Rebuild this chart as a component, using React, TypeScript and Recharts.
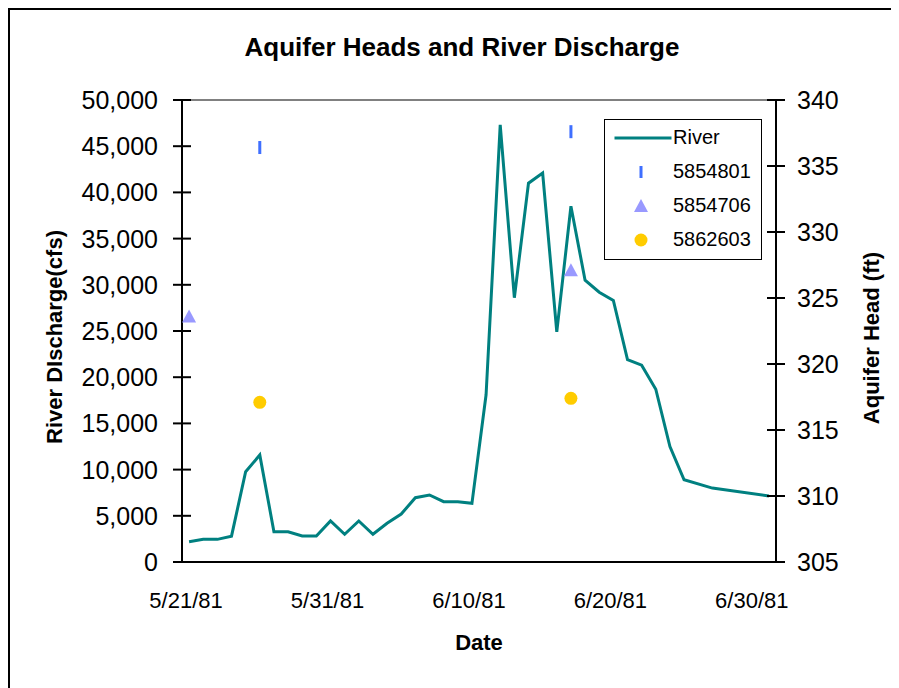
import React from 'react';
import { ComposedChart, Line, Scatter, XAxis, YAxis, Legend, ReferenceLine, Label } from 'recharts';

// river discharge, daily (cfs)
const riverDates = [
  '5/21/81', '5/22/81', '5/23/81', '5/24/81', '5/25/81', '5/26/81', '5/27/81', '5/28/81',
  '5/29/81', '5/30/81', '5/31/81', '6/1/81', '6/2/81', '6/3/81', '6/4/81', '6/5/81',
  '6/6/81', '6/7/81', '6/8/81', '6/9/81', '6/10/81', '6/11/81', '6/12/81', '6/13/81',
  '6/14/81', '6/15/81', '6/16/81', '6/17/81', '6/18/81', '6/19/81', '6/20/81', '6/21/81',
  '6/22/81', '6/23/81', '6/24/81', '6/25/81', '6/27/81', '7/1/81'
];
const riverFlow = [
  2200, 2450, 2450, 2800, 9770, 11580, 3280, 3280,
  2810, 2810, 4440, 3000, 4440, 3000, 4190, 5190,
  6960, 7250, 6530, 6530, 6350, 18100, 47300, 28600,
  41000, 42100, 24900, 38500, 30500, 29200, 28300, 21900,
  21300, 18700, 12500, 8900, 8000, 7150
];

// aquifer heads (ft)
const well5854801Dates = ['5/26/81', '6/17/81'];
const well5854801Head = [336.4, 337.6];
const well5854706Dates = ['5/21/81', '6/17/81'];
const well5854706Head = [323.6, 327.1];
const well5862603Dates = ['5/26/81', '6/17/81'];
const well5862603Head = [317.1, 317.4];

const dateTicks = ['5/21/81', '5/31/81', '6/10/81', '6/20/81', '6/30/81'];
const flowTicks = [0, 5000, 10000, 15000, 20000, 25000, 30000, 35000, 40000, 45000, 50000];
const headTicks = [305, 310, 315, 320, 325, 330, 335, 340];

const FONT = '"Liberation Sans", Arial, sans-serif';
const START = new Date(1981, 4, 21).getTime();

const toDay = (s: string) => {
  const [m, d, y] = s.split('/').map(Number);
  return Math.round((new Date(1900 + y, m - 1, d).getTime() - START) / 86400000);
};

const riverData = riverDates.map((d, i) => ({ day: toDay(d), flow: riverFlow[i] }));
const wellData = (dates: string[], heads: number[]) => dates.map((d, i) => ({ day: toDay(d), head: heads[i] }));

const dayTicks = dateTicks.map(toDay);
const dayLabel = (v: number) => dateTicks[dayTicks.indexOf(v)] ?? '';

const LeftTick = (props: any) => {
  const { x, y, payload } = props;
  return (
    <g>
      <line x1={x - 9} x2={x + 9} y1={y} y2={y} stroke="#000" strokeWidth={2} />
      <text x={x - 24} y={y} dy="0.36em" textAnchor="end" fontSize={25} fontFamily={FONT} fill="#000">
        {Number(payload.value).toLocaleString('en-US')}
      </text>
    </g>
  );
};

const RightTick = (props: any) => {
  const { x, y, payload } = props;
  return (
    <g>
      <line x1={x - 9} x2={x + 9} y1={y} y2={y} stroke="#000" strokeWidth={2} />
      <text x={x + 21} y={y} dy="0.36em" textAnchor="start" fontSize={25} fontFamily={FONT} fill="#000">
        {payload.value}
      </text>
    </g>
  );
};

const BottomTick = (props: any) => {
  const { x, y, payload } = props;
  return (
    <text x={x - 3} y={y + 46} textAnchor="middle" fontSize={22} fontFamily={FONT} fill="#000">
      {dayLabel(payload.value)}
    </text>
  );
};

const BarMark = (props: any) => <rect x={props.cx - 1.5} y={props.cy - 6.5} width={3} height={13} fill="#3f6fff" />;
const TriMark = (props: any) => {
  const { cx, cy } = props;
  return <polygon points={`${cx},${cy - 7} ${cx + 7},${cy + 6} ${cx - 7},${cy + 6}`} fill="#9999ff" />;
};
const DotMark = (props: any) => <circle cx={props.cx} cy={props.cy} r={6.5} fill="#ffcc00" />;

const legendItems = [
  { name: 'River', mark: <line x1={9.5} x2={66.5} y1={12} y2={12} stroke="#008080" strokeWidth={3} /> },
  { name: '5854801', mark: <rect x={34.5} y={6} width={3} height={12} fill="#3f6fff" /> },
  { name: '5854706', mark: <polygon points="36,5 43,18 29,18" fill="#9999ff" /> },
  { name: '5862603', mark: <circle cx={36} cy={12} r={6.5} fill="#ffcc00" /> }
];

const renderLegend = () => (
  <div style={{ width: 158, height: 141, border: '1.5px solid #000', boxSizing: 'border-box', background: '#fff', position: 'relative', fontFamily: FONT, fontSize: 20, color: '#000' }}>
    {legendItems.map((item, i) => (
      <div key={item.name} style={{ position: 'absolute', left: 0, top: 5.5 + i * 34, height: 24, display: 'flex', alignItems: 'center' }}>
        <svg width={68} height={24}>{item.mark}</svg>
        <span>{item.name}</span>
      </div>
    ))}
  </div>
);

export default function App() {
  return (
    <div style={{ position: 'relative', width: 891, height: 680, borderLeft: '2px solid #000', borderTop: '2px solid #000', boxSizing: 'border-box', background: '#fff', overflow: 'hidden' }}>
      <div style={{ position: 'absolute', left: 452, top: 24, transform: 'translateX(-50%)', whiteSpace: 'nowrap', fontFamily: FONT, fontWeight: 'bold', fontSize: 26, lineHeight: '26px' }}>
        Aquifer Heads and River Discharge
      </div>
      <ComposedChart width={889} height={678} data={riverData} margin={{ top: 90, right: 0, bottom: 0, left: 0 }}>
        <XAxis
          type="number"
          dataKey="day"
          domain={[-0.5, 41.5]}
          allowDataOverflow
          ticks={dayTicks}
          interval={0}
          height={126}
          tickSize={0}
          tickMargin={0}
          tickLine={false}
          axisLine={{ stroke: '#000', strokeWidth: 2 }}
          tick={<BottomTick />}
        >
          <Label
            content={({ viewBox }: any) => (
              <text x={viewBox.x + viewBox.width / 2} y={viewBox.y + 88} textAnchor="middle" fontSize={22} fontWeight="bold" fontFamily={FONT} fill="#000">
                Date
              </text>
            )}
          />
        </XAxis>
        <YAxis
          yAxisId="left"
          domain={[0, 50000]}
          ticks={flowTicks}
          interval={0}
          width={172}
          tickSize={0}
          tickMargin={0}
          tickLine={false}
          axisLine={{ stroke: '#000', strokeWidth: 2 }}
          tick={<LeftTick />}
        >
          <Label
            content={({ viewBox }: any) => {
              const cx = viewBox.x + 52;
              const cy = viewBox.y + viewBox.height / 2 + 6;
              return (
                <text x={cx} y={cy} transform={`rotate(-90 ${cx} ${cy})`} textAnchor="middle" fontSize={22} fontWeight="bold" fontFamily={FONT} fill="#000">
                  River DIscharge(cfs)
                </text>
              );
            }}
          />
        </YAxis>
        <YAxis
          yAxisId="right"
          orientation="right"
          domain={[305, 340]}
          ticks={headTicks}
          interval={0}
          width={123}
          tickSize={0}
          tickMargin={0}
          tickLine={false}
          axisLine={{ stroke: '#000', strokeWidth: 2 }}
          tick={<RightTick />}
        >
          <Label
            content={({ viewBox }: any) => {
              const cx = viewBox.x + 103;
              const cy = viewBox.y + viewBox.height / 2 + 7;
              return (
                <text x={cx} y={cy} transform={`rotate(-90 ${cx} ${cy})`} textAnchor="middle" fontSize={22} fontWeight="bold" fontFamily={FONT} fill="#000">
                  Aquifer Head (ft)
                </text>
              );
            }}
          />
        </YAxis>
        <ReferenceLine yAxisId="left" y={50000} stroke="#808080" strokeWidth={2} />
        <Legend
          layout="vertical"
          align="center"
          verticalAlign="middle"
          content={renderLegend}
          wrapperStyle={{ top: 109, left: 594, width: 158, height: 141 }}
        />
        <Line yAxisId="left" type="linear" dataKey="flow" name="River" stroke="#008080" strokeWidth={3} dot={false} isAnimationActive={false} />
        <Scatter yAxisId="right" name="5854801" data={wellData(well5854801Dates, well5854801Head)} dataKey="head" shape={BarMark} isAnimationActive={false} />
        <Scatter yAxisId="right" name="5854706" data={wellData(well5854706Dates, well5854706Head)} dataKey="head" shape={TriMark} isAnimationActive={false} />
        <Scatter yAxisId="right" name="5862603" data={wellData(well5862603Dates, well5862603Head)} dataKey="head" shape={DotMark} isAnimationActive={false} />
      </ComposedChart>
    </div>
  );
}
